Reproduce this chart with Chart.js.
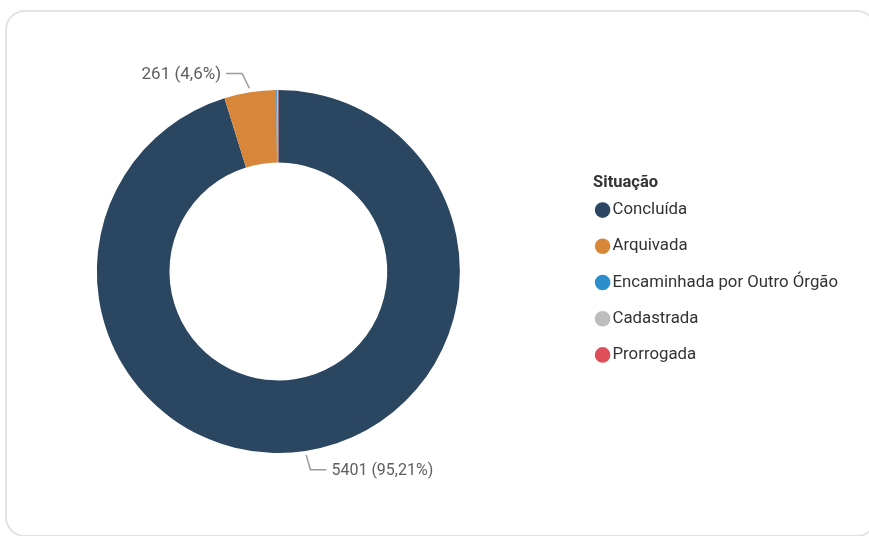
<!DOCTYPE html>
<html><head><meta charset="utf-8">
<script src="https://cdn.jsdelivr.net/npm/chart.js@4.4.1/dist/chart.umd.min.js"></script>
<style>
html,body{margin:0;padding:0;width:869px;height:536px;overflow:hidden;background:#fff;position:relative;}
#card{position:absolute;left:5px;top:10px;width:872px;height:527px;box-sizing:border-box;border:2px solid #e3e3e3;border-radius:20px;}
#wrap{position:absolute;left:-25px;top:1px;width:893px;height:536px;}
</style></head><body>
<div id="card"></div>
<div id="wrap"><canvas id="c"></canvas></div>
<script>
const categories = ['Concluída', 'Arquivada', 'Encaminhada por Outro Órgão', 'Cadastrada', 'Prorrogada'];
const values = [5401, 261, 6, 3, 2];
const colors = ['#2B4660', '#D8873A', '#2C8FCB', '#BDBDBD', '#DE4E5A'];
const legendTitle = 'Situação';

const FONT = 'Roboto, "DejaVu Sans", sans-serif';
const fmt = new Intl.NumberFormat('pt-BR', {maximumFractionDigits: 2});

const outsideLabels = {
  id: 'outsideLabels',
  afterDatasetsDraw(chart) {
    const ctx = chart.ctx;
    const meta = chart.getDatasetMeta(0);
    const data = chart.data.datasets[0].data;
    const total = data.reduce((a, b) => a + b, 0);
    ctx.save();
    ctx.textBaseline = 'middle';
    meta.data.forEach((arc, i) => {
      const v = data[i];
      const pct = v / total * 100;
      if (pct < 1) return;
      const p = arc.getProps(['x', 'y', 'startAngle', 'endAngle', 'outerRadius'], true);
      const mid = (p.startAngle + p.endAngle) / 2;
      const c = Math.cos(mid), s = Math.sin(mid);
      const r1 = p.outerRadius + 4, r2 = p.outerRadius + 19;
      const x1 = p.x + c * r1, y1 = p.y + s * r1;
      const x2 = p.x + c * r2 + (c >= 0 ? 2 : -5), y2 = p.y + s * r2;
      const dir = c >= 0 ? 1 : -1;
      const x3 = x2 + dir * 16;
      ctx.strokeStyle = '#9a9a9a';
      ctx.lineWidth = 1.5;
      ctx.beginPath();
      ctx.moveTo(x1, y1); ctx.lineTo(x2, y2); ctx.lineTo(x3, y2);
      ctx.stroke();
      ctx.fillStyle = '#605E5C';
      ctx.font = (dir > 0 ? '16px ' : '17px ') + FONT;
      ctx.textAlign = dir > 0 ? 'left' : 'right';
      ctx.fillText(v + ' (' + fmt.format(pct) + '%)', x3 + dir * 5, y2 + 1);
    });
    ctx.restore();
  }
};

const legendTitlePlugin = {
  id: 'legendTitlePlugin',
  afterDraw(chart) {
    const lg = chart.legend;
    if (!lg || !lg.legendHitBoxes || !lg.legendHitBoxes.length) return;
    const hb = lg.legendHitBoxes[0];
    const ctx = chart.ctx;
    ctx.save();
    ctx.font = 'bold 16.5px ' + FONT;
    ctx.fillStyle = '#333333';
    ctx.textAlign = 'left';
    ctx.textBaseline = 'middle';
    ctx.fillText(legendTitle, hb.left - 8, hb.top + 8.4 - 27);
    ctx.restore();
  }
};

new Chart(document.getElementById('c'), {
  type: 'doughnut',
  data: {
    labels: categories,
    datasets: [{
      data: values,
      backgroundColor: colors,
      borderWidth: 0,
      hoverOffset: 0
    }]
  },
  options: {
    responsive: true,
    maintainAspectRatio: false,
    animation: false,
    cutout: '60%',
    layout: {padding: {left: 0, right: 20, top: 89, bottom: 84}},
    plugins: {
      tooltip: {enabled: false},
      legend: {
        position: 'right',
        align: 'center',
        title: {display: true, text: legendTitle, color: 'rgba(0,0,0,0)', font: {size: 15, lineHeight: 1.2, family: FONT}, padding: {top: 0, bottom: 4}},
        labels: {
          usePointStyle: true,
          pointStyle: 'circle',
          boxWidth: 3,
          boxHeight: 11,
          padding: 19.4,
          color: '#333333',
          font: {family: FONT, size: 16.8}
        }
      }
    }
  },
  plugins: [outsideLabels, legendTitlePlugin]
});
</script>
</body></html>
